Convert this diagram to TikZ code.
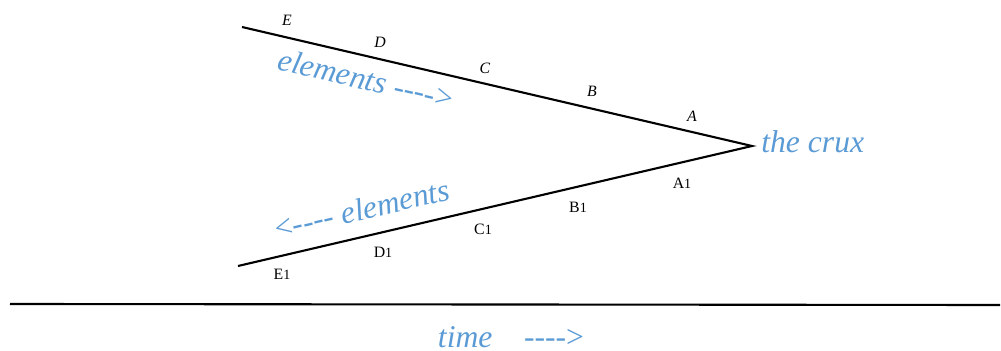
\documentclass[tikz,border=0pt]{standalone}
\usepackage{fontspec}
\setmainfont{Liberation Serif}
\usepackage{xcolor}
\definecolor{cruxblue}{HTML}{5B9BD5}
\newcommand{\dashes}{-{}-{}-{}->}
\newcommand{\backdashes}{<-{}-{}-{}-}

\begin{document}
\begin{tikzpicture}[x=0.02cm,y=-0.02cm]
\tikzset{
  elem/.style={font=\small\itshape},
  elemlow/.style={font=\small},
  bluetext/.style={cruxblue,inner sep=0pt,font=\fontsize{18}{21}\selectfont}
}
\useasboundingbox (0,0) rectangle (1001,351);
\coordinate (E) at (242,27);
\coordinate (crux) at (752,146);
\coordinate (E1) at (238,266);
\coordinate (t0) at (10,304);
\coordinate (t1) at (1000,305);
\draw[line width=1.2pt] (E) -- (crux) -- (E1);
\draw[line width=1.2pt] (t0) -- (t1);
% upper elements
\node[elem] (lE) at (287,20) {E};
\node[elem] (lD) at (380,42) {D};
\node[elem] (lC) at (485,68) {C};
\node[elem] (lB) at (592,91) {B};
\node[elem] (lA) at (692,116) {A};
% lower elements
\node[elemlow] (lA1) at (682,183) {A{\footnotesize 1}};
\node[elemlow] (lB1) at (578,207) {B{\footnotesize 1}};
\node[elemlow] (lC1) at (483,229) {C{\footnotesize 1}};
\node[elemlow] (lD1) at (383,252) {D{\footnotesize 1}};
\node[elemlow] (lE1) at (282,274) {E{\footnotesize 1}};
% blue texts
\node[bluetext,anchor=west] (cx) at (761,142) {\textit{the crux}};
\node[bluetext,rotate=-13.1] (fwd) at (366,79) {\textit{elements} \dashes};
\node[bluetext,rotate=13.1] (bwd) at (362,209) {\backdashes{} \textit{elements}};
\node[bluetext] (tm) at (511,337) {\textit{time}\quad\dashes};
\end{tikzpicture}
\end{document}
